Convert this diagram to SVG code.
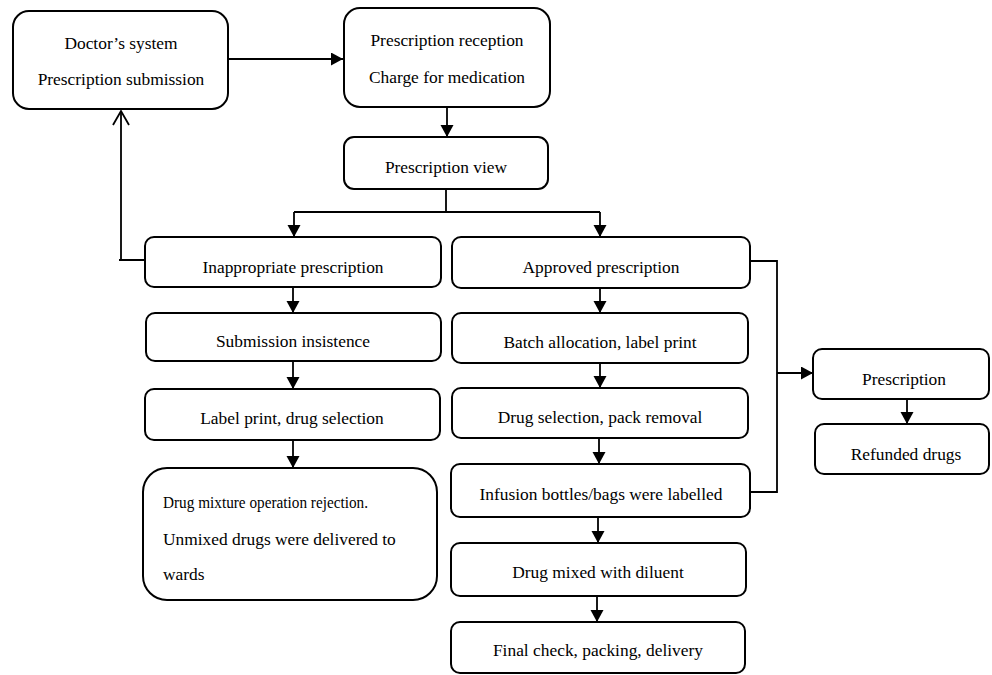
<svg xmlns="http://www.w3.org/2000/svg" width="992" height="675" viewBox="0 0 992 675">
<style>
  .box { fill: #ffffff; stroke: #000000; stroke-width: 2; }
  text { font-family: 'Liberation Serif', 'DejaVu Serif', serif; font-size: 17.4px; fill: #000000; }
  .t { text-anchor: middle; }
  .tl { text-anchor: start; }
  .c { fill: none; stroke: #000000; stroke-width: 1.8; }
</style>
<defs>
  <marker id="ah" markerUnits="userSpaceOnUse" markerWidth="14" markerHeight="14" refX="12" refY="6.5" orient="auto">
    <path d="M0,0 L12,6.5 L0,13 z" fill="#000000"/>
  </marker>
</defs>
<rect width="992" height="675" fill="#ffffff"/>

<g id="connectors">
  <path class="c" d="M228,59 H343" marker-end="url(#ah)"/>
  <path class="c" d="M447,107 V137" marker-end="url(#ah)"/>
  <path class="c" d="M446,189 V212 M294,212 H600"/>
  <path class="c" d="M294,212 V237" marker-end="url(#ah)"/>
  <path class="c" d="M600,212 V237" marker-end="url(#ah)"/>
  <path class="c" d="M145,260 H119 M121,260 V111"/>
  <path class="c" d="M113,125 L121,111 L129,125"/>
  <path class="c" d="M293,287 V313" marker-end="url(#ah)"/>
  <path class="c" d="M293,361 V389" marker-end="url(#ah)"/>
  <path class="c" d="M293,440 V468" marker-end="url(#ah)"/>
  <path class="c" d="M600,288 V313" marker-end="url(#ah)"/>
  <path class="c" d="M600,363 V388" marker-end="url(#ah)"/>
  <path class="c" d="M599,438 V464" marker-end="url(#ah)"/>
  <path class="c" d="M598,517 V543" marker-end="url(#ah)"/>
  <path class="c" d="M597,596 V622" marker-end="url(#ah)"/>
  <path class="c" d="M750,261 H777 V492 H750"/>
  <path class="c" d="M777,373 H813" marker-end="url(#ah)"/>
  <path class="c" d="M907,399 V424" marker-end="url(#ah)"/>
</g>

<g id="doctor">
  <rect class="box" x="13" y="11" width="215" height="98" rx="16"/>
  <text class="t" x="121" y="49">Doctor’s system</text>
  <text class="t" x="121" y="85">Prescription submission</text>
</g>
<g id="reception">
  <rect class="box" x="344" y="8" width="206" height="99" rx="16"/>
  <text class="t" x="447" y="46">Prescription reception</text>
  <text class="t" x="447" y="83">Charge for medication</text>
</g>
<g id="view">
  <rect class="box" x="344" y="137" width="204" height="52" rx="10"/>
  <text class="t" x="446" y="173">Prescription view</text>
</g>
<g id="inappropriate">
  <rect class="box" x="145" y="237" width="296" height="50" rx="9"/>
  <text class="t" x="293" y="273">Inappropriate prescription</text>
</g>
<g id="insistence">
  <rect class="box" x="146" y="313" width="295" height="48" rx="9"/>
  <text class="t" x="293" y="347">Submission insistence</text>
</g>
<g id="labelprint">
  <rect class="box" x="145" y="389" width="295" height="51" rx="9"/>
  <text class="t" x="292" y="424">Label print, drug selection</text>
</g>
<g id="rejection">
  <rect class="box" x="143" y="468" width="294" height="132" rx="24"/>
  <text class="tl" x="163" y="508" textLength="205" lengthAdjust="spacingAndGlyphs">Drug mixture operation rejection.</text>
  <text class="tl" x="163" y="545">Unmixed drugs were delivered to</text>
  <text class="tl" x="163" y="580">wards</text>
</g>
<g id="approved">
  <rect class="box" x="452" y="237" width="298" height="51" rx="9"/>
  <text class="t" x="601" y="273">Approved prescription</text>
</g>
<g id="batch">
  <rect class="box" x="452" y="313" width="296" height="50" rx="9"/>
  <text class="t" x="600" y="348">Batch allocation, label print</text>
</g>
<g id="drugselection">
  <rect class="box" x="452" y="388" width="296" height="50" rx="9"/>
  <text class="t" x="600" y="423">Drug selection, pack removal</text>
</g>
<g id="infusion">
  <rect class="box" x="451" y="464" width="299" height="53" rx="9"/>
  <text class="t" x="601" y="500">Infusion bottles/bags were labelled</text>
</g>
<g id="mixed">
  <rect class="box" x="451" y="543" width="295" height="53" rx="9"/>
  <text class="t" x="598" y="578">Drug mixed with diluent</text>
</g>
<g id="final">
  <rect class="box" x="451" y="622" width="294" height="51" rx="9"/>
  <text class="t" x="598" y="656">Final check, packing, delivery</text>
</g>
<g id="prescription">
  <rect class="box" x="813" y="349" width="176" height="50" rx="9"/>
  <text class="t" x="904" y="385">Prescription</text>
</g>
<g id="refunded">
  <rect class="box" x="815" y="424" width="174" height="50" rx="9"/>
  <text class="t" x="906" y="460">Refunded drugs</text>
</g>
</svg>
